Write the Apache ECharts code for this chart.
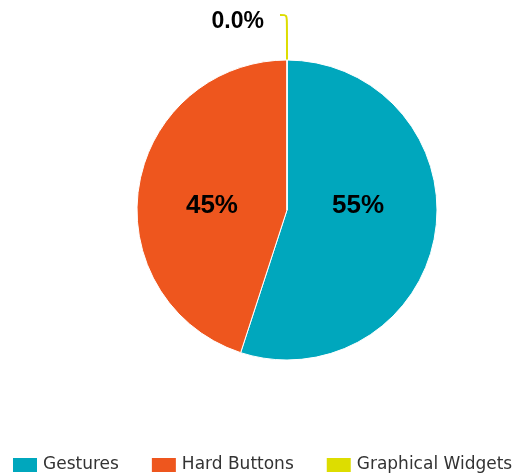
<!DOCTYPE html>
<html><head><meta charset="utf-8">
<script src="https://cdn.jsdelivr.net/npm/echarts@6/dist/echarts.min.js"></script>
<style>html,body{margin:0;padding:0;background:#fff}#c{width:520px;height:474px}</style>
</head><body><div id="c"></div>
<script>
const categories = ['Gestures', 'Hard Buttons', 'Graphical Widgets'];
const values = [55, 45, 0];
const colors = ['#00A7BD', '#EE561E', '#DDDD00'];
const labelOffsets = [[-6, -16], [2, 8], [0, 0]];

const total = values.reduce((a, b) => a + b, 0);
const data = categories.map((name, i) => {
  const item = { name: name, value: values[i], itemStyle: { color: colors[i] } };
  if (values[i] === 0) {
    item.label = { position: 'outside', fontSize: 23, fontWeight: 'bold', color: '#000', distanceToLabelLine: 16, lineHeight: 14 };
    item.labelLine = { show: true, length: 45, length2: 7, smooth: true, lineStyle: { color: colors[i], width: 2 } };
  } else {
    item.label = { position: 'inside', offset: labelOffsets[i] };
    item.labelLine = { show: false };
  }
  return item;
});

const chart = echarts.init(document.getElementById('c'), null, { renderer: 'canvas' });
chart.setOption({
  animation: false,
  legend: {
    bottom: -5, left: 6,
    itemWidth: 26, itemHeight: 16, itemGap: 31,
    icon: 'rect',
    textStyle: { fontSize: 17, color: '#333', fontFamily: "'DejaVu Sans', sans-serif" },
    data: categories
  },
  series: [{
    type: 'pie',
    center: [287, 210],
    radius: [0, 150],
    startAngle: 90,
    clockwise: true,
    avoidLabelOverlap: false,
    itemStyle: { borderColor: '#fff', borderWidth: 1 },
    label: {
      show: true,
      fontSize: 26, fontWeight: 'bold', color: '#000',
      fontFamily: 'Liberation Sans, Arial, sans-serif',
      formatter: p => p.value === 0 ? '\n0.0%' : Math.round(p.value / total * 100) + '%'
    },
    data: data
  }]
});
</script></body></html>
